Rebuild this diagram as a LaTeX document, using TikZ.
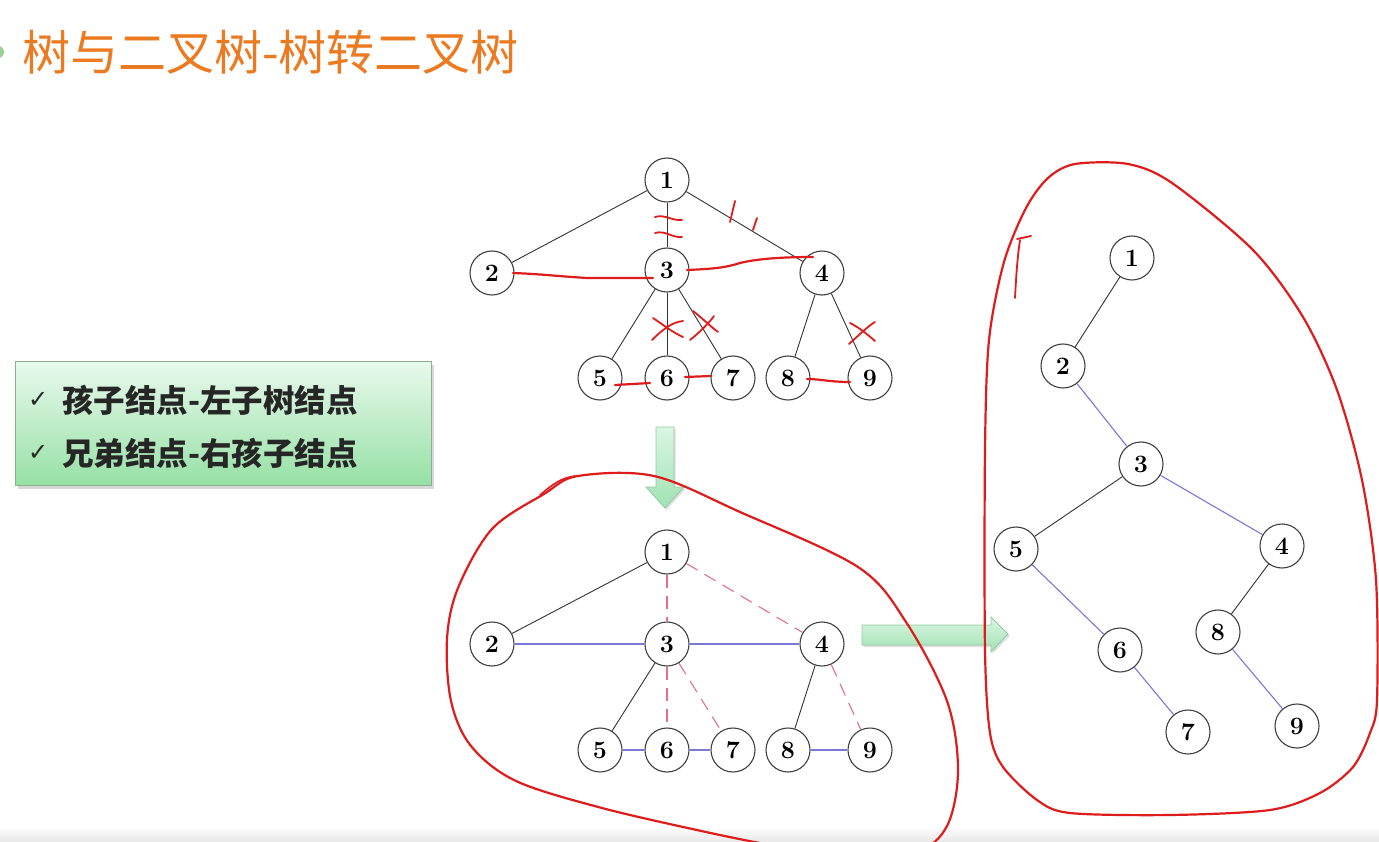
\documentclass[tikz,border=0pt]{standalone}
\usepackage{fontspec}
\newfontfamily\cjk{Noto Sans CJK SC}
\newfontfamily\dejavu{DejaVu Sans}
\usetikzlibrary{shadows}
\definecolor{inkred}{RGB}{222,28,28}
\definecolor{blueline}{RGB}{120,120,215}
\definecolor{pinkdash}{RGB}{226,112,140}
\definecolor{titleorange}{RGB}{236,122,32}
\definecolor{bulletgreen}{RGB}{150,210,150}
\definecolor{boxtop}{RGB}{232,249,236}
\definecolor{boxbot}{RGB}{150,224,165}
\definecolor{boxline}{RGB}{140,175,145}
\definecolor{arrtop}{RGB}{218,246,226}
\definecolor{arrbot}{RGB}{160,226,180}
\definecolor{arrline}{RGB}{150,200,165}
\tikzset{
  tnode/.style={circle, draw=black!75, line width=1.1pt, fill=white, minimum size=44pt, inner sep=0pt, font=\fontsize{25}{25}\selectfont\bfseries},
  blk/.style={draw=black!80, line width=0.9pt},
  blu/.style={draw=blueline, line width=1.1pt},
  pdash/.style={draw=pinkdash, line width=1.1pt, dash pattern=on 13pt off 8pt},
  ink/.style={draw=inkred, line width=2.2pt, line cap=round, line join=round},
  greenarrow/.style={draw=arrline, line width=0.8pt, top color=arrtop, bottom color=arrbot, drop shadow={shadow xshift=1.5pt, shadow yshift=-2pt, opacity=0.25}},
}
\begin{document}
\begin{tikzpicture}[x=1pt,y=-1pt]
\useasboundingbox (0,0) rectangle (1379,842);
\clip (0,0) rectangle (1379,842);
\fill[white] (0,0) rectangle (1379,842);
\shade[top color=white, bottom color=black!9] (0,826) rectangle (1379,842);

% title
\fill[bulletgreen] (-2,52) circle (6);
\node[anchor=west, inner sep=0pt, text=titleorange, font=\cjk\fontsize{48}{48}\selectfont] (title) at (22,52) {树与二叉树-树转二叉树};

% green box
\node[draw=boxline, line width=1pt, top color=boxtop, bottom color=boxbot, minimum width=416pt, minimum height=124pt, inner sep=0pt, anchor=north west,
      drop shadow={shadow xshift=2pt, shadow yshift=-3pt, opacity=0.3}] (box) at (15,361) {};
\node[anchor=west, inner sep=0pt, font=\dejavu\fontsize{24}{24}\selectfont, text=black!85] (chk1) at (28,400) {✓};
\node[anchor=west, inner sep=0pt, font=\cjk\bfseries\fontsize{31.5}{31.5}\selectfont, text=black!85] (l1) at (62,400) {孩子结点-左子树结点};
\node[anchor=west, inner sep=0pt, font=\dejavu\fontsize{24}{24}\selectfont, text=black!85] (chk2) at (28,453) {✓};
\node[anchor=west, inner sep=0pt, font=\cjk\bfseries\fontsize{31.5}{31.5}\selectfont, text=black!85] (l2) at (62,453) {兄弟结点-右孩子结点};

% block arrows
\path[greenarrow] (656,427) -- (674,427) -- (674,487) -- (684,487) -- (665,508) -- (646,487) -- (656,487) -- cycle;
\path[greenarrow] (862,625) -- (991,625) -- (991,617) -- (1008,634) -- (991,652) -- (991,645) -- (862,645) -- cycle;

% ---------- top tree ----------
\node[tnode] (a1) at (667,180) {1};
\node[tnode] (a2) at (492,273) {2};
\node[tnode] (a3) at (667,270) {3};
\node[tnode] (a4) at (822,273) {4};
\node[tnode] (a5) at (600,378) {5};
\node[tnode] (a6) at (667,378) {6};
\node[tnode] (a7) at (733,378) {7};
\node[tnode] (a8) at (788,378) {8};
\node[tnode] (a9) at (870,378) {9};
\draw[blk] (a1) -- (a2);
\draw[blk] (a1) -- (a3);
\draw[blk] (a1) -- (a4);
\draw[blk] (a3) -- (a5);
\draw[blk] (a3) -- (a6);
\draw[blk] (a3) -- (a7);
\draw[blk] (a4) -- (a8);
\draw[blk] (a4) -- (a9);

% ---------- middle tree ----------
\node[tnode] (b1) at (667,552) {1};
\node[tnode] (b2) at (492,644) {2};
\node[tnode] (b3) at (667,644) {3};
\node[tnode] (b4) at (822,644) {4};
\node[tnode] (b5) at (600,750) {5};
\node[tnode] (b6) at (667,750) {6};
\node[tnode] (b7) at (733,750) {7};
\node[tnode] (b8) at (788,750) {8};
\node[tnode] (b9) at (870,750) {9};
\draw[blk] (b1) -- (b2);
\draw[pdash] (b1) -- (b3);
\draw[pdash] (b1) -- (b4);
\draw[blu] (b2) -- (b3);
\draw[blu] (b3) -- (b4);
\draw[blk] (b3) -- (b5);
\draw[pdash] (b3) -- (b6);
\draw[pdash] (b3) -- (b7);
\draw[blk] (b4) -- (b8);
\draw[pdash] (b4) -- (b9);
\draw[blu] (b5) -- (b6);
\draw[blu] (b6) -- (b7);
\draw[blu] (b8) -- (b9);

% ---------- right binary tree ----------
\node[tnode] (c1) at (1132,258) {1};
\node[tnode] (c2) at (1063,366) {2};
\node[tnode] (c3) at (1141,464) {3};
\node[tnode] (c5) at (1016,549) {5};
\node[tnode] (c4) at (1282,546) {4};
\node[tnode] (c8) at (1218,632) {8};
\node[tnode] (c6) at (1120,650) {6};
\node[tnode] (c7) at (1188,732) {7};
\node[tnode] (c9) at (1297,726) {9};
\draw[blk] (c1) -- (c2);
\draw[blu] (c2) -- (c3);
\draw[blk] (c3) -- (c5);
\draw[blu] (c3) -- (c4);
\draw[blu] (c5) -- (c6);
\draw[blk] (c4) -- (c8);
\draw[blu] (c6) -- (c7);
\draw[blu] (c8) -- (c9);

% ---------- red ink on top tree ----------
\draw[ink] (513,273) .. controls (540,274) and (555,276) .. (587,278) -- (653,278);
\draw[ink] (687,270) .. controls (710,269) and (725,268) .. (740,263) .. controls (760,258) and (790,257) .. (813,257);
\draw[ink] (615,385) -- (650,383);
\draw[ink] (685,377) -- (711,376);
\draw[ink] (807,379) .. controls (820,379) and (830,382) .. (850,382);
% double marks on 1-3
\draw[ink, line width=1.8pt] (655,217) .. controls (665,214) and (672,221) .. (682,220);
\draw[ink, line width=1.8pt] (655,233) .. controls (665,230) and (672,238) .. (682,237);
% ticks on 1-4
\draw[ink, line width=1.8pt] (730,222) -- (735,201);
\draw[ink, line width=1.8pt] (753,230) -- (757,218);
% crosses
\draw[ink, line width=1.8pt] (653,318) .. controls (665,326) and (672,332) .. (683,337);
\draw[ink, line width=1.8pt] (652,340) .. controls (662,330) and (672,322) .. (683,321);
\draw[ink, line width=1.8pt] (693,311) .. controls (702,318) and (710,326) .. (718,332);
\draw[ink, line width=1.8pt] (690,340) .. controls (700,332) and (710,322) .. (714,316);
\draw[ink, line width=1.8pt] (850,323) .. controls (860,328) and (868,335) .. (875,341);
\draw[ink, line width=1.8pt] (849,344) .. controls (858,336) and (868,326) .. (875,322);

% ---------- red loops ----------
\draw[ink] plot[smooth cycle, tension=0.55] coordinates {
 (578,476) (654,476) (740,512) (858,567) (906,622) (947,701) (958,770)
 (947,826) (915,852) (840,858) (775,846) (706,832) (602,808) (516,781)
 (471,746) (451,701) (447,639) (458,588) (492,529) (544,494)};
\draw[ink, line width=1.6pt] (540,495) .. controls (552,485) and (560,478) .. (575,476);
\draw[ink] plot[smooth cycle, tension=0.5] coordinates {
 (1075,164) (1128,164) (1172,183) (1253,250) (1303,317) (1337,390)
 (1362,480) (1376,580) (1377,700) (1370,733) (1353,767) (1320,793)
 (1270,810) (1170,815) (1070,813) (1037,800) (1003,767) (990,733)
 (985,650) (985,450) (989,340) (1004,262) (1026,208) (1048,178)};
\draw[ink, line width=1.8pt] (1017,239) -- (1031,236);
\draw[ink, line width=1.8pt] (1020,240) .. controls (1017,260) and (1016,280) .. (1015,298);
\end{tikzpicture}
\end{document}
